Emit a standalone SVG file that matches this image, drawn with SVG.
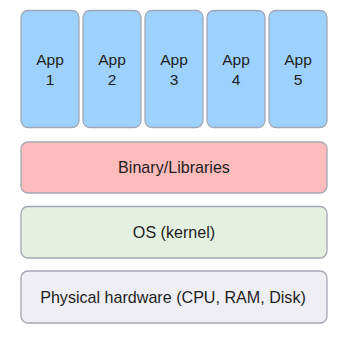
<svg xmlns="http://www.w3.org/2000/svg" width="345" height="338" viewBox="0 0 345 338">
<style>
.box{stroke:#a4a7b5;stroke-width:1.3}
.app{fill:#9dd2ff}
.bin{fill:#ffbcbc}
.os{fill:#e5f1e0}
.hw{fill:#eeeef4}
text{font-family:"Liberation Sans",Arial,sans-serif;fill:#1e1e1e;text-anchor:middle}
.t-app{font-size:15.5px}
.t-layer{font-size:16.1px}
</style>
<rect width="345" height="338" fill="#ffffff"/>
<g id="app1"><rect class="box app" x="21" y="10.5" width="58" height="117" rx="7"/><text class="t-app" x="50" y="65">App</text><text class="t-app" x="50" y="84.5">1</text></g>
<g id="app2"><rect class="box app" x="83" y="10.5" width="58" height="117" rx="7"/><text class="t-app" x="112" y="65">App</text><text class="t-app" x="112" y="84.5">2</text></g>
<g id="app3"><rect class="box app" x="145" y="10.5" width="58" height="117" rx="7"/><text class="t-app" x="174" y="65">App</text><text class="t-app" x="174" y="84.5">3</text></g>
<g id="app4"><rect class="box app" x="207" y="10.5" width="58" height="117" rx="7"/><text class="t-app" x="236" y="65">App</text><text class="t-app" x="236" y="84.5">4</text></g>
<g id="app5"><rect class="box app" x="269" y="10.5" width="58" height="117" rx="7"/><text class="t-app" x="298" y="65">App</text><text class="t-app" x="298" y="84.5">5</text></g>
<g id="binaries"><rect class="box bin" x="21" y="142" width="306" height="51" rx="7"/><text class="t-layer" x="174" y="173.3">Binary/Libraries</text></g>
<g id="os"><rect class="box os" x="21" y="206.5" width="306" height="51.5" rx="7"/><text class="t-layer" x="174" y="237.8">OS (kernel)</text></g>
<g id="hardware"><rect class="box hw" x="21" y="271" width="306" height="52" rx="7"/><text class="t-layer" x="173" y="303.4">Physical hardware (CPU, RAM, Disk)</text></g>
<g id="connectors"></g>
</svg>
